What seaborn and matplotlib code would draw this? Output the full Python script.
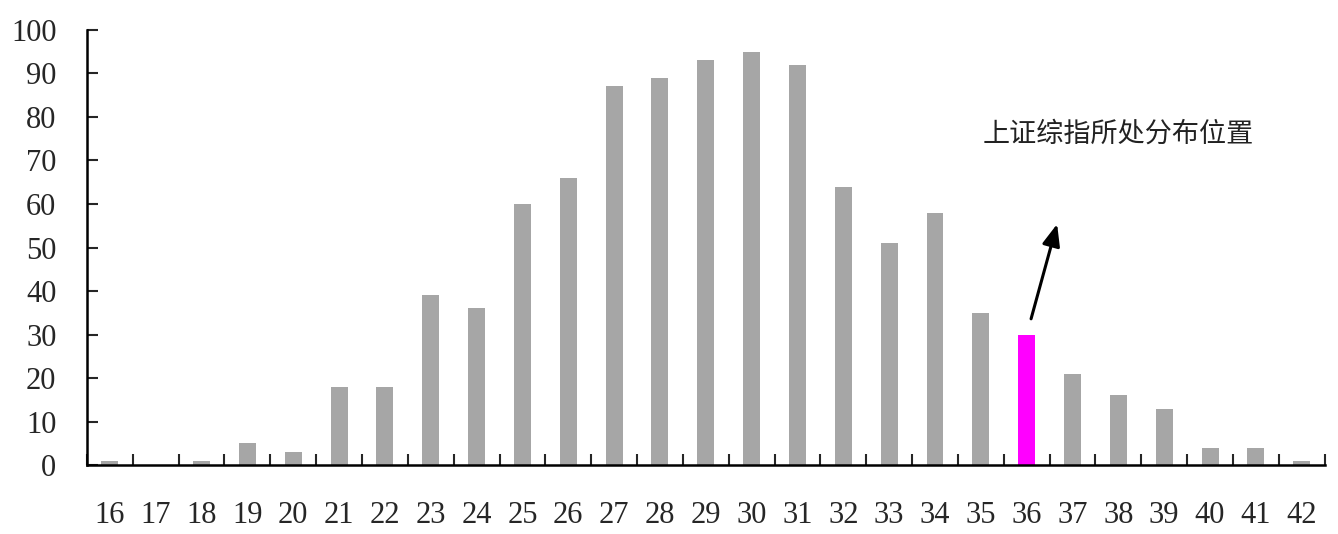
import matplotlib
matplotlib.use("Agg")
import matplotlib.pyplot as plt
import seaborn as sns
import numpy as np

categories = [str(v) for v in range(16, 43)]
values = [1, 0, 1, 5, 3, 18, 18, 39, 36, 60, 66, 87, 89, 93, 95, 92, 64, 51, 58, 35, 30, 21, 16, 13, 4, 4, 1]
highlight = "36"
annotation_text = "上证综指所处分布位置"

sns.set_theme(style="white")
plt.rcParams['font.family'] = ['Liberation Serif', 'Noto Sans CJK SC', 'DejaVu Sans']

colors = {c: ("#FF00FF" if c == highlight else "#A6A6A6") for c in categories}

fig = plt.figure(figsize=(13.38, 5.34), dpi=100)
ax = fig.add_axes([0.065, 0.129, 0.925, 0.815])
sns.barplot(x=categories, y=values, hue=categories, palette=colors, legend=False,
            width=0.37, order=categories, ax=ax, saturation=1, linewidth=0)

ax.set_ylim(0, 100)
ax.set_xlim(-0.5, len(categories) - 0.5)
ax.set_yticks(np.arange(0, 101, 10))
ax.tick_params(axis='y', direction='in', length=8, width=1.5, labelsize=22, pad=22, left=True)
ax.tick_params(axis='x', which='major', length=0, labelsize=22, pad=26)
ax.set_xticks(np.arange(-0.5, len(categories), 1), minor=True)
ax.tick_params(axis='x', which='minor', direction='in', length=8, width=1.5, bottom=True)
for s in ['top', 'right']:
    ax.spines[s].set_visible(False)
for s in ['left', 'bottom']:
    ax.spines[s].set_linewidth(1.8)
    ax.spines[s].set_color('black')
ax.set_xlabel('')
ax.set_ylabel('')

hi = categories.index(highlight)
ax.annotate('', xy=(hi + 0.68, 56), xytext=(hi + 0.08, 33),
            arrowprops=dict(arrowstyle='-|>,head_length=1.1,head_width=0.45', color='black', lw=2.2))
ax.text(hi - 0.95, 76, annotation_text, fontsize=19.5, family=['Noto Sans CJK SC'], va='center', ha='left',
        color='#222222', fontweight='light')

fig.savefig('out.png', dpi=100)
